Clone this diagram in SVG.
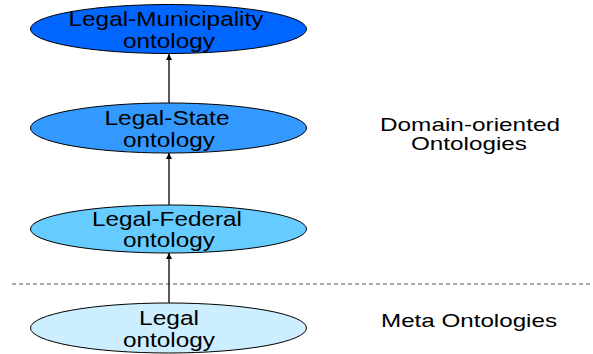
<svg xmlns="http://www.w3.org/2000/svg" width="593" height="354" viewBox="0 0 593 354">
  <style>
    .node ellipse { stroke: #000; stroke-width: 1; }
    .label { font-family: "Liberation Sans", Arial, sans-serif; font-size: 20.5px; fill: #000; text-anchor: middle; }
    .side { font-family: "Liberation Sans", Arial, sans-serif; font-size: 19px; fill: #000; text-anchor: middle; }
    .edge { stroke: #000; stroke-width: 1.3; fill: none; marker-end: url(#arrow); }
    .sep { stroke: #555; stroke-width: 1.2; stroke-dasharray: 4 3; }
  </style>
  <defs>
    <marker id="arrow" viewBox="0 0 10 10" refX="10" refY="5" markerWidth="6" markerHeight="7" markerUnits="userSpaceOnUse" orient="auto">
      <path d="M0,0 L10,5 L0,10 Z" fill="#000"/>
    </marker>
  </defs>

  <rect width="593" height="354" fill="#fff"/>

  <!-- layer separator -->
  <line class="sep" x1="12" y1="284" x2="593" y2="284"/>

  <!-- connectors -->
  <g id="connectors">
    <line class="edge" x1="169" y1="103" x2="169" y2="54"/>
    <line class="edge" x1="169" y1="205" x2="169" y2="153"/>
    <line class="edge" x1="169" y1="303" x2="169" y2="253"/>
  </g>

  <g id="legal-municipality" class="node">
    <ellipse cx="168.5" cy="29" rx="138" ry="24.5" fill="#0066ff"/>
    <text class="label" x="166" y="25.5" textLength="195" lengthAdjust="spacingAndGlyphs">Legal-Municipality</text>
    <text class="label" x="169" y="47.5" textLength="92" lengthAdjust="spacingAndGlyphs">ontology</text>
  </g>

  <g id="legal-state" class="node">
    <ellipse cx="168.5" cy="128" rx="138" ry="25" fill="#3399ff"/>
    <text class="label" x="167" y="124.5" textLength="125" lengthAdjust="spacingAndGlyphs">Legal-State</text>
    <text class="label" x="169" y="146.5" textLength="92" lengthAdjust="spacingAndGlyphs">ontology</text>
  </g>

  <g id="legal-federal" class="node">
    <ellipse cx="168.5" cy="229" rx="138" ry="24" fill="#66ccff"/>
    <text class="label" x="167" y="225.5" textLength="150" lengthAdjust="spacingAndGlyphs">Legal-Federal</text>
    <text class="label" x="169" y="247" textLength="92" lengthAdjust="spacingAndGlyphs">ontology</text>
  </g>

  <g id="legal" class="node">
    <ellipse cx="168.5" cy="328" rx="138" ry="25" fill="#cceeff"/>
    <text class="label" x="169" y="324.5" textLength="60" lengthAdjust="spacingAndGlyphs">Legal</text>
    <text class="label" x="169" y="346.5" textLength="92" lengthAdjust="spacingAndGlyphs">ontology</text>
  </g>

  <!-- layer captions -->
  <g id="captions">
    <text class="side" x="470" y="131" textLength="180" lengthAdjust="spacingAndGlyphs">Domain-oriented</text>
    <text class="side" x="469" y="150" textLength="116" lengthAdjust="spacingAndGlyphs">Ontologies</text>
    <text class="side" x="469" y="327" textLength="176" lengthAdjust="spacingAndGlyphs">Meta Ontologies</text>
  </g>
</svg>
